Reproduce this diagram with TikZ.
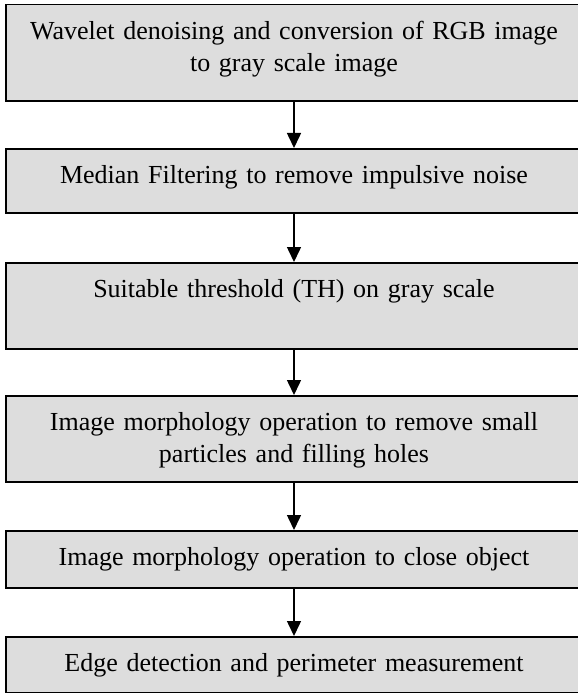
\documentclass[tikz,border=0pt]{standalone}
\usepackage{fontspec}
\setmainfont{Liberation Serif}
\usepackage{tikz}
\usetikzlibrary{arrows.meta}
\definecolor{stagefill}{RGB}{221,221,221}
\tikzset{
  stage/.style={draw=black, fill=stagefill, line width=1.5bp, anchor=north,
    minimum width=576bp, text width=560bp, align=center, inner xsep=8bp,
    inner ysep=0pt, text height=35bp,
    font=\fontsize{26bp}{32bp}\selectfont},
  flow/.style={line width=1.5bp, -{Triangle[length=15bp,width=14bp]}}
}

\begin{document}
\begin{tikzpicture}[x=1bp,y=1bp]
\useasboundingbox (0,-693) rectangle (578,0);
\node[stage, text depth=61bp] (denoise) at (294,-4) {Wavelet denoising and conversion of RGB image\\ to gray scale image};
\node[stage, text depth=29bp] (median) at (294,-148) {Median Filtering to remove impulsive noise};
\node[stage, text depth=51bp] (thresh) at (294,-262) {Suitable threshold (TH) on gray scale};
\node[stage, text depth=51bp] (morphA) at (294,-395) {Image morphology operation to remove small\\ particles and filling holes};
\node[stage, text depth=22bp] (morphB) at (294,-530) {Image morphology operation to close object};
\node[stage, text depth=21bp] (edge) at (294,-636) {Edge detection and perimeter measurement};
\draw[flow] (denoise) -- (median);
\draw[flow] (median) -- (thresh);
\draw[flow] (thresh) -- (morphA);
\draw[flow] (morphA) -- (morphB);
\draw[flow] (morphB) -- (edge);
\end{tikzpicture}
\end{document}
